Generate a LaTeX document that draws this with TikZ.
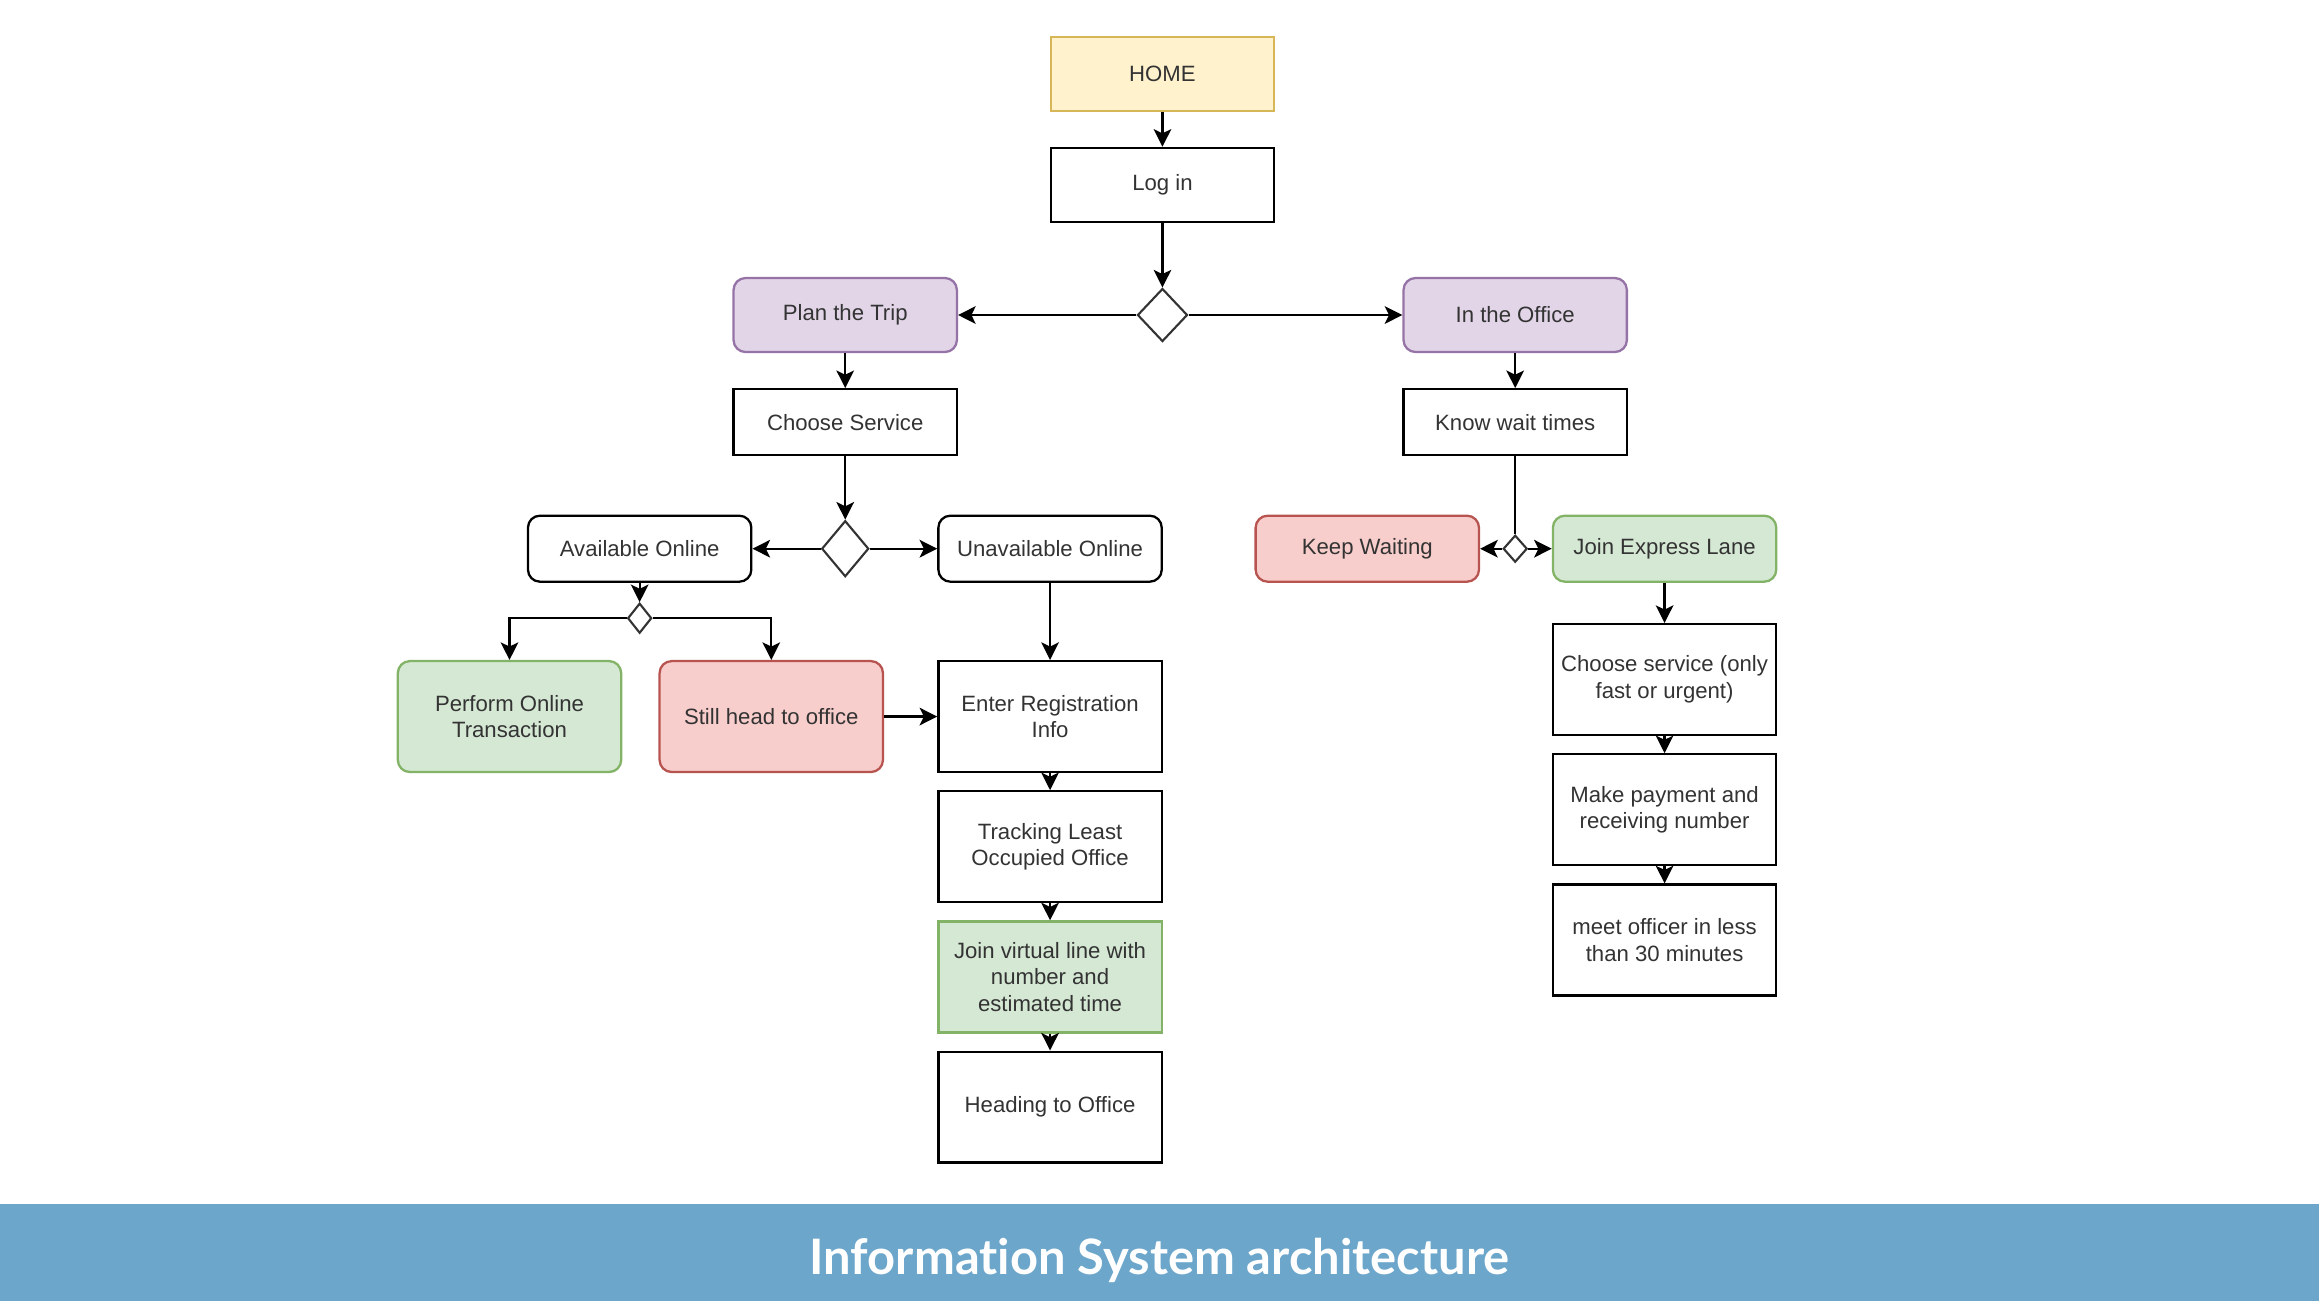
\documentclass[tikz,border=0pt]{standalone}
\usepackage{fontspec}
\setmainfont{Liberation Sans}
\newfontfamily\titlefont[Ligatures=NoCommon]{Lato}
\usepackage{tikz}
\usetikzlibrary{arrows.meta,positioning,shapes.geometric}

\definecolor{yelfill}{HTML}{FFF2CC}
\definecolor{yeldraw}{HTML}{D6B656}
\definecolor{purfill}{HTML}{E1D5E7}
\definecolor{purdraw}{HTML}{9673A6}
\definecolor{grnfill}{HTML}{D5E8D4}
\definecolor{grndraw}{HTML}{82B366}
\definecolor{redfill}{HTML}{F8CECC}
\definecolor{reddraw}{HTML}{B85450}
\definecolor{band}{RGB}{108,166,203}
\definecolor{txt}{HTML}{333333}

\begin{document}
\begin{tikzpicture}[x=0.01479cm,y=-0.01479cm,node distance=1.3015cm,on grid,
  >={Stealth[length=5pt,width=5pt,inset=1.2pt]},
  every node/.style={font=\fontsize{6.3}{7.6}\selectfont,text=txt,align=center},
  box/.style={draw=black,line width=0.65pt,fill=white,minimum width=2.233cm,inner sep=1pt},
  tall/.style={box,minimum height=1.109cm},
  mid/.style={box,minimum height=0.74cm},
  low/.style={box,minimum height=0.66cm},
  soft/.style={rounded corners=0.12cm},
  yel/.style={fill=yelfill,draw=yeldraw},
  pur/.style={fill=purfill,draw=purdraw},
  grn/.style={fill=grnfill,draw=grndraw},
  rd/.style={fill=redfill,draw=reddraw},
  choice/.style={diamond,draw=black!80,line width=0.6pt,fill=white,inner sep=0pt}]

\useasboundingbox (0,0) rectangle (1568,880);
\fill[band] (0,814) rectangle (1568,880);

% top of the flow
\node[mid,yel] (n_home) at (786,50) {HOME};
\node[mid] (n_login) at (786,125) {Log in};
\node[choice,minimum width=0.5cm,minimum height=0.53cm] (d_0) at (786,213) {};
\node[mid,soft,pur] (n_plan) at (571.5,213) {Plan the Trip};
\node[mid,soft,pur] (n_office) at (1024.5,213) {In the Office};
\node[low] (n_choose) at (571.5,285.5) {Choose Service};
\node[low] (n_wait) at (1024.5,285.5) {Know wait times};

% left branch
\node[choice,minimum width=0.47cm,minimum height=0.56cm] (d_1) at (571.5,371) {};
\node[low,soft] (n_avail) at (432.5,371) {Available Online};
\node[low,soft] (n_unavail) at (710,371) {Unavailable Online};
\node[choice,minimum width=0.24cm,minimum height=0.3cm] (d_2) at (432.5,418) {};
\node[tall,soft,grn] (n_perform) at (344.5,484.5) {Perform Online\\Transaction};
\node[tall,soft,rd] (n_still) at (521.5,484.5) {Still head to office};
\node[tall] (n_enter) at (710,484.5) {Enter Registration\\Info};
\node[tall] (n_track) [below=of n_enter] {Tracking Least\\Occupied Office};
\node[tall,grn] (n_join) [below=of n_track] {Join virtual line with\\number and\\estimated time};
\node[tall] (n_heading) [below=of n_join] {Heading to Office};

% right branch
\node[choice,minimum width=0.24cm,minimum height=0.27cm] (d_3) at (1024.5,371) {};
\node[low,soft,rd] (n_keep) at (924.5,371) {Keep Waiting};
\node[low,soft,grn] (n_express) at (1125.5,371) {Join Express Lane};
\node[tall] (n_svc) at (1125.5,459.5) {Choose service (only\\fast or urgent)};
\node[tall] (n_pay) [below=of n_svc] {Make payment and\\receiving number};
\node[tall] (n_meet) [below=of n_pay] {meet officer in less\\than 30 minutes};

\node[text=white,font=\titlefont\bfseries\fontsize{13.9}{16}\selectfont] (n_title) at (784,852) {Information System architecture};

\path[->,line width=0.65pt]
(n_home) edge (n_login)
(n_login) edge (d_0)
(d_0) edge (n_plan)
(d_0) edge (n_office)
(n_plan) edge (n_choose)
(n_office) edge (n_wait)

(n_choose) edge (d_1)
(d_1) edge (n_avail)
(d_1) edge (n_unavail)
(n_avail) edge (d_2)
(n_unavail) edge (n_enter)
(n_still) edge (n_enter)
(n_enter) edge (n_track)
(n_track) edge (n_join)
(n_join) edge (n_heading)

(d_3) edge (n_keep)
(d_3) edge (n_express)
(n_express) edge (n_svc)
(n_svc) edge (n_pay)
(n_pay) edge (n_meet)
; %end path
\draw[->,line width=0.65pt] (d_2.west) -| (n_perform.north);
\draw[->,line width=0.65pt] (d_2.east) -| (n_still.north);
\draw[line width=0.65pt] (n_wait) -- (d_3);
\end{tikzpicture}
\end{document}
